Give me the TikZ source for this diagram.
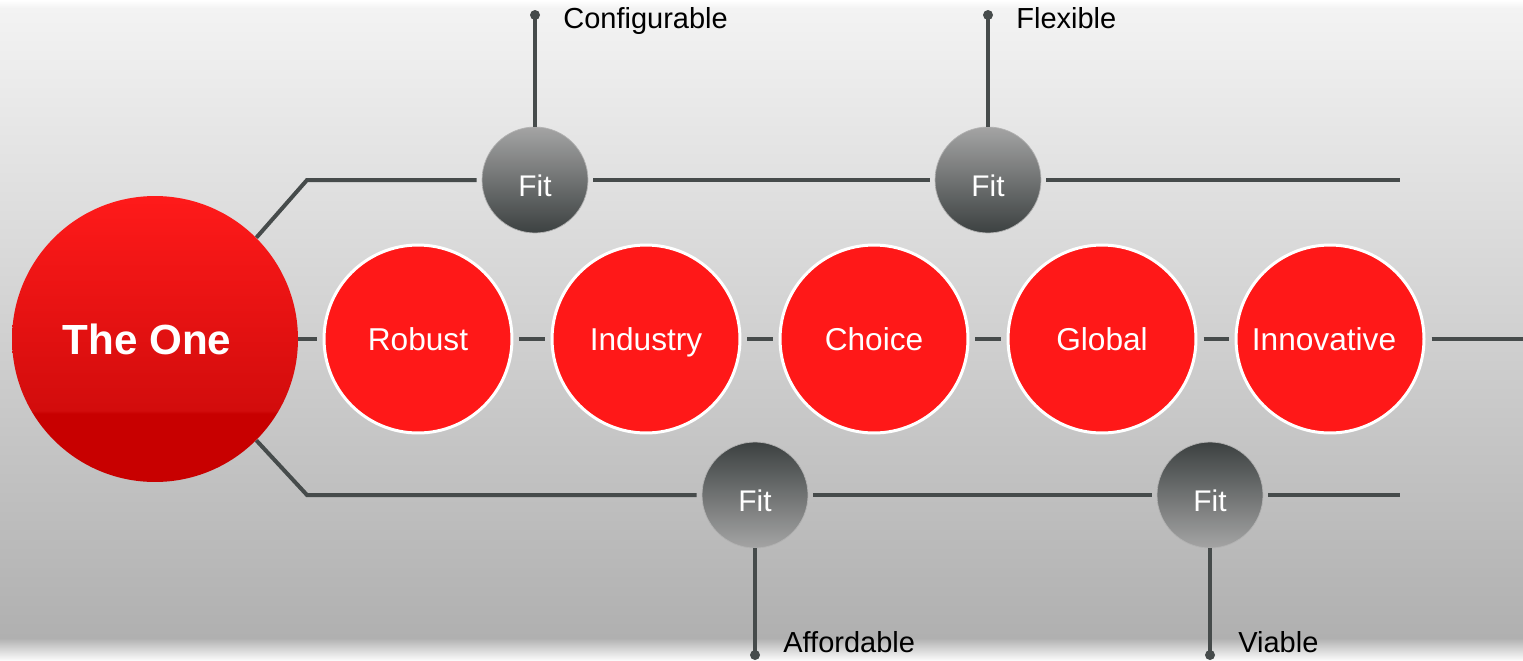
\documentclass[tikz,border=0pt]{standalone}
\usepackage{fontspec}
\setmainfont{Liberation Sans}
\usetikzlibrary{positioning}
\definecolor{linkColor}{RGB}{70,75,75}
\definecolor{valueRed}{RGB}{255,24,24}
\definecolor{oneTop}{RGB}{255,26,26}
\definecolor{oneMid}{RGB}{210,12,12}
\definecolor{oneBottom}{RGB}{200,0,0}
\definecolor{fitLight}{RGB}{164,164,164}
\definecolor{fitDark}{RGB}{60,65,65}
\definecolor{bgTop}{RGB}{243,243,243}
\definecolor{bgBottom}{RGB}{176,176,176}
\pgfdeclareverticalshading{oneShade}{100bp}{color(0bp)=(oneBottom); color(37bp)=(oneBottom); color(37.5bp)=(oneMid); color(75bp)=(oneTop); color(100bp)=(oneTop)}
\tikzstyle{canvas} = [x = 0.02cm, y = -0.02cm]
\tikzstyle{link} = [color=linkColor, line width=0.08cm]
\tikzstyle{bigCircle} = [circle, minimum size=5.72cm, inner sep=0, shade, shading=oneShade, text=white, text height=17.2pt, text depth=0pt, font=\fontsize{24}{28}\selectfont\bfseries]
\tikzstyle{valueCircle} = [circle, minimum size=3.76cm, inner sep=0, fill=valueRed, draw=white, line width=0.06cm, text=white, text height=12.9pt, text depth=0pt, font=\fontsize{18}{21}\selectfont]
\tikzstyle{fitUp} = [circle, minimum size=2.12cm, inner sep=0, top color=fitLight, bottom color=fitDark, draw=fitLight!85!white, line width=0.4pt, text=white, text height=19pt, text depth=0pt, font=\fontsize{17}{20}\selectfont]
\tikzstyle{fitDown} = [fitUp, top color=fitDark, bottom color=fitLight]
\tikzstyle{tagText} = [inner sep=0, anchor=west, text height=11.8pt, text depth=0pt, font=\fontsize{16.5}{19}\selectfont]
\newcommand{\dotRadius}{0.1cm}

\begin{document}
\begin{tikzpicture}[canvas]
  \useasboundingbox (0,0) rectangle (1523,660);
  % background
  \fill [top color=white, bottom color=bgTop] (0,0) rectangle (1523,8);
  \fill [top color=bgTop, bottom color=bgBottom] (0,8) rectangle (1523,638);
  \fill [top color=bgBottom, bottom color=white!94!bgBottom] (0,638) rectangle (1523,660);

  \node [bigCircle] (one) at (155,339) {The One\hspace*{0.32cm}};
  \node [valueCircle] (robust) at (418,339) {Robust};
  \node [valueCircle] (industry) at (646,339) {Industry};
  \node [valueCircle] (choice) at (874,339) {Choice};
  \node [valueCircle] (global) at (1102,339) {Global};
  \node [valueCircle] (innovative) at (1330,339) {Innovative\hspace*{0.24cm}};
  \coordinate (midEnd) at (1523,339);

  \node [fitUp] (fitConfig) at (535,180) {Fit};
  \node [fitUp] (fitFlex) at (988,180) {Fit};
  \node [fitDown] (fitAfford) at (755,495) {Fit};
  \node [fitDown] (fitViable) at (1210,495) {Fit};
  \coordinate (topBend) at (307,180);
  \coordinate (topEnd) at (1400,180);
  \coordinate (botBend) at (307,495);
  \coordinate (botEnd) at (1400,495);

  \coordinate (dotConfig) at (535,15);
  \coordinate (dotFlex) at (988,15);
  \coordinate (dotAfford) at (755,655);
  \coordinate (dotViable) at (1210,655);

  % middle chain
  \draw [link, shorten >=0.12cm] (one) -- (robust);
  \foreach \from/\to in {robust/industry, industry/choice, choice/global, global/innovative}
    \draw [link, shorten <=0.12cm, shorten >=0.12cm] (\from) -- (\to);
  \draw [link, shorten <=0.12cm] (innovative) -- (midEnd);

  % upper branch
  \draw [link, shorten >=0.1cm] (one.45) -- (topBend) -- (fitConfig);
  \draw [link, shorten <=0.1cm, shorten >=0.1cm] (fitConfig) -- (fitFlex);
  \draw [link, shorten <=0.1cm] (fitFlex) -- (topEnd);

  % lower branch
  \draw [link, shorten >=0.1cm] (one.-45) -- (botBend) -- (fitAfford);
  \draw [link, shorten <=0.1cm, shorten >=0.1cm] (fitAfford) -- (fitViable);
  \draw [link, shorten <=0.1cm] (fitViable) -- (botEnd);

  % stems
  \draw [link] (fitConfig) -- (dotConfig);
  \draw [link] (fitFlex) -- (dotFlex);
  \draw [link] (fitAfford) -- (dotAfford);
  \draw [link] (fitViable) -- (dotViable);
  \foreach \tip in {dotConfig, dotFlex, dotAfford, dotViable}
    \fill [linkColor] (\tip) circle (\dotRadius);

  \node [tagText, right=0.56cm of dotConfig, yshift=-0.06cm] (tagConfig) {Configurable};
  \node [tagText, right=0.56cm of dotFlex, yshift=-0.06cm] (tagFlex) {Flexible};
  \node [tagText, right=0.56cm of dotAfford, yshift=0.26cm] (tagAfford) {Affordable};
  \node [tagText, right=0.56cm of dotViable, yshift=0.26cm] (tagViable) {Viable};
\end{tikzpicture}
\end{document}
